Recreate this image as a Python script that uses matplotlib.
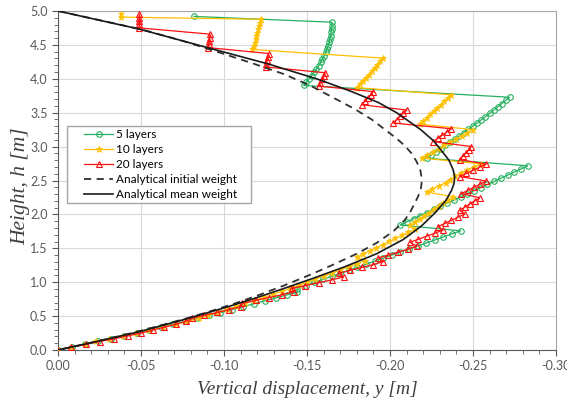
import numpy as np
import matplotlib
matplotlib.use("Agg")
import matplotlib.pyplot as plt
from matplotlib.patches import Rectangle
from matplotlib.ticker import MultipleLocator, FormatStrFormatter

plt.rcParams['axes.unicode_minus'] = False

# node heights of the column, 5.00 ... 0.00 m
node_h = np.array([5.0 - 0.05 * k for k in range(101)])

# loose points at the very top of two series (displacement, height)
top5_y, top5_h = [-0.082], [4.92]
top10_y, top10_h = [-0.038, -0.038], [4.96, 4.91]

# vertical displacement at each node [m]
y_5 = [-0.165, -0.165, -0.1648, -0.1645, -0.1642, -0.1638, -0.1633, -0.1627, -0.162, -0.1612,
       -0.1603, -0.1593, -0.1582, -0.157, -0.1557, -0.1543, -0.1528, -0.1512, -0.1496, -0.148,
       -0.272, -0.2697, -0.2673, -0.2649, -0.2625, -0.260, -0.2575, -0.255, -0.2524, -0.2498,
       -0.2471, -0.2444, -0.2417, -0.2389, -0.2361, -0.2333, -0.2305, -0.2277, -0.2249, -0.222,
       -0.283, -0.279, -0.2749, -0.2709, -0.2668, -0.2628, -0.2587, -0.2547, -0.2506, -0.2466,
       -0.2425, -0.2385, -0.2344, -0.2304, -0.2263, -0.2223, -0.2182, -0.2142, -0.2101, -0.206,
       -0.2426, -0.2374, -0.2322, -0.227, -0.2218, -0.2166, -0.2114, -0.2062, -0.201, -0.196,
       -0.1908, -0.1856, -0.1804, -0.1752, -0.170, -0.1648, -0.1596, -0.1544, -0.1492, -0.144,
       -0.1442, -0.1378, -0.1313, -0.1247, -0.1181, -0.1114, -0.1046, -0.0977, -0.0908, -0.0838,
       -0.0767, -0.0695, -0.0622, -0.0548, -0.0473, -0.0397, -0.032, -0.0242, -0.0162, -0.0082, 0.0]

y_10 = [-0.122, -0.1215, -0.121, -0.1205, -0.12, -0.1195, -0.119, -0.1185, -0.118, -0.117,
        -0.196, -0.1942, -0.1924, -0.1907, -0.1889, -0.1871, -0.1853, -0.1836, -0.1818, -0.180,
        -0.237, -0.2349, -0.2328, -0.2307, -0.2286, -0.2264, -0.2243, -0.2222, -0.2201, -0.218,
        -0.250, -0.2466, -0.2431, -0.2397, -0.2362, -0.2328, -0.2293, -0.2259, -0.2224, -0.219,
        -0.255, -0.2505, -0.2463, -0.2425, -0.2392, -0.2362, -0.2335, -0.2295, -0.2255, -0.222,
        -0.238, -0.2351, -0.2322, -0.2293, -0.2264, -0.2236, -0.2207, -0.2178, -0.2149, -0.212,
        -0.215, -0.2111, -0.2072, -0.2033, -0.1994, -0.1956, -0.1917, -0.1878, -0.1839, -0.180,
        -0.185, -0.180, -0.175, -0.170, -0.165, -0.160, -0.155, -0.150, -0.145, -0.140,
        -0.135, -0.1294, -0.1239, -0.1183, -0.1128, -0.1072, -0.1017, -0.0961, -0.0906, -0.085,
        -0.078, -0.071, -0.063, -0.055, -0.047, -0.039, -0.031, -0.023, -0.016, -0.008, 0.0]

y_20 = [-0.049, -0.049, -0.049, -0.049, -0.049,
        -0.0916, -0.0914, -0.0911, -0.0909, -0.0906,
        -0.127, -0.1265, -0.126, -0.1255, -0.125,
        -0.161, -0.160, -0.159, -0.158, -0.157,
        -0.190, -0.1883, -0.1865, -0.1848, -0.183,
        -0.210, -0.208, -0.206, -0.204, -0.202,
        -0.237, -0.2343, -0.2315, -0.2288, -0.226,
        -0.249, -0.2473, -0.2455, -0.2438, -0.242,
        -0.258, -0.254, -0.250, -0.246, -0.242,
        -0.258, -0.2543, -0.2505, -0.2468, -0.243,
        -0.254, -0.251, -0.248, -0.245, -0.242,
        -0.245, -0.241, -0.237, -0.233, -0.229,
        -0.232, -0.227, -0.222, -0.217, -0.212,
        -0.216, -0.211, -0.205, -0.199, -0.193,
        -0.196, -0.190, -0.183, -0.176, -0.169,
        -0.172, -0.165, -0.157, -0.149, -0.141,
        -0.142, -0.135, -0.127, -0.119, -0.111,
        -0.110, -0.103, -0.096, -0.088, -0.081,
        -0.077, -0.071, -0.064, -0.057, -0.050,
        -0.042, -0.034, -0.025, -0.017, -0.008, 0.0]

# analytical curves (displacement, height)
init_y = [0.0, -0.050, -0.075, -0.097, -0.117, -0.136, -0.152, -0.166, -0.179, -0.189, -0.197,
          -0.204, -0.209, -0.213, -0.216, -0.2182, -0.219, -0.219, -0.2185, -0.217, -0.215,
          -0.2125, -0.209, -0.202, -0.192, -0.180, -0.165, -0.151, -0.136, -0.122, -0.107,
          -0.093, -0.078, -0.051, -0.026, 0.0]
init_h = [5.0, 4.73, 4.56, 4.39, 4.23, 4.07, 3.90, 3.72, 3.55, 3.40, 3.25,
          3.12, 3.01, 2.90, 2.78, 2.66, 2.55, 2.45, 2.37, 2.27, 2.17,
          2.05, 1.92, 1.75, 1.58, 1.42, 1.25, 1.10, 0.95, 0.82, 0.69,
          0.58, 0.47, 0.29, 0.14, 0.0]

mean_y = [0.0, -0.0495, -0.090, -0.1265, -0.157, -0.176, -0.193, -0.204, -0.2185, -0.2265,
          -0.232, -0.2355, -0.238, -0.239, -0.2385, -0.237, -0.2335, -0.227, -0.219, -0.208,
          -0.192, -0.173, -0.154, -0.134, -0.117, -0.100, -0.0745, -0.049, -0.024, 0.0]
mean_h = [5.0, 4.73, 4.46, 4.22, 3.99, 3.82, 3.65, 3.50, 3.25, 3.08,
          2.91, 2.80, 2.66, 2.55, 2.45, 2.35, 2.20, 2.02, 1.83, 1.63,
          1.42, 1.23, 1.06, 0.89, 0.75, 0.62, 0.44, 0.27, 0.13, 0.0]

# deformed position of each node = node height + displacement
x5 = top5_y + y_5
h5 = top5_h + list(node_h + np.array(y_5))
x10 = top10_y + y_10
h10 = top10_h + list(node_h + np.array(y_10))
x20 = y_20
h20 = list(node_h + np.array(y_20))

fig = plt.figure(figsize=(5.67, 4.03), dpi=100)
ax = fig.add_axes([58 / 567, 1 - 350 / 403, 498 / 567, 339 / 403])

ax.plot(x5, h5, color='#25B060', lw=0.9, marker='o', ms=4, mfc='none', mew=0.8,
        label='5 layers', zorder=3)
ax.plot(x10, h10, color='#FFC000', lw=0.9, marker='*', ms=4.5, mew=0.6,
        label='10 layers', zorder=3)
ax.plot(x20, h20, color='#FF1010', lw=0.9, marker='^', ms=4, mfc='none', mew=0.8,
        label='20 layers', zorder=3)
ax.plot(init_y, init_h, color='#303030', lw=1.3, ls=(0, (4, 3)),
        label='Analytical initial weight', zorder=4)
ax.plot(mean_y, mean_h, color='#1a1a1a', lw=1.2, label='Analytical mean weight', zorder=5)

ax.set_xlim(0, -0.30)
ax.set_ylim(0, 5.0)
ax.xaxis.set_major_locator(MultipleLocator(0.05))
ax.xaxis.set_minor_locator(MultipleLocator(0.01))
ax.yaxis.set_major_locator(MultipleLocator(0.5))
ax.yaxis.set_minor_locator(MultipleLocator(0.1))
ax.xaxis.set_major_formatter(FormatStrFormatter('%.2f'))
ax.yaxis.set_major_formatter(FormatStrFormatter('%.1f'))
ax.grid(True, which='major', color='#D9D9D9', lw=0.8)
ax.set_axisbelow(True)

for s in ['top', 'right']:
    ax.spines[s].set_color('#A6A6A6')
for s in ['left', 'bottom']:
    ax.spines[s].set_color('#595959')
ax.tick_params(which='both', direction='out', color='#595959', labelcolor='#595959',
               labelsize=9)
ax.tick_params(which='major', length=4)
ax.tick_params(which='minor', length=3)
for lab in ax.get_xticklabels() + ax.get_yticklabels():
    lab.set_fontfamily('Lato')

lab_font = dict(family='Liberation Serif', style='italic', color='#404040')
ax.set_xlabel('Vertical displacement, y [m]', fontdict=lab_font, fontsize=14, labelpad=6)
ax.set_ylabel('Height, h [m]', fontdict=lab_font, fontsize=15.5)
ax.yaxis.set_label_coords(-0.056, 0.482)

# legend box drawn by hand so it can be padded like the original
ax.add_patch(Rectangle((0.018, 0.434), 0.37, 0.227, transform=ax.transAxes,
                       facecolor='white', edgecolor='#A6A6A6', lw=1.0, zorder=6))
leg = ax.legend(loc='upper left', bbox_to_anchor=(0.052, 0.653), borderaxespad=0,
                prop={'family': 'Lato', 'size': 8.5}, frameon=False,
                handlelength=2.5, handletextpad=0.2, labelspacing=0.35, borderpad=0)
leg.set_zorder(7)

fig.savefig('out.png', dpi=100)
